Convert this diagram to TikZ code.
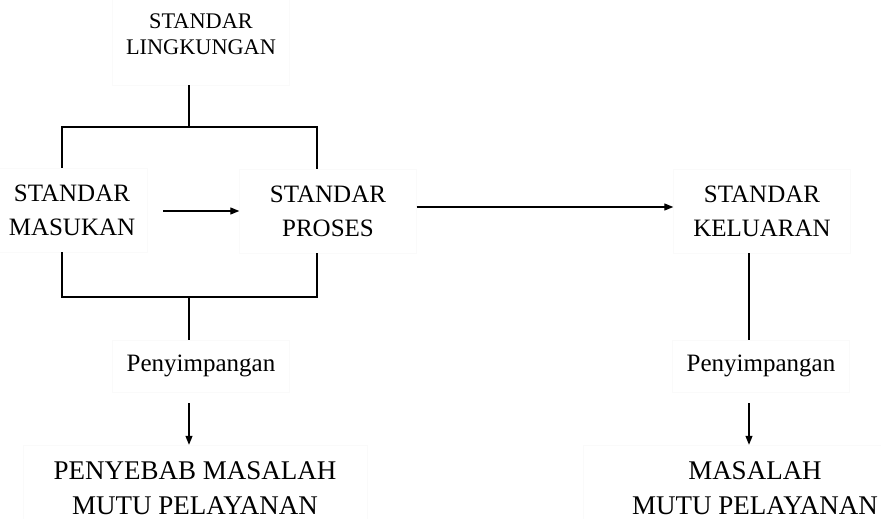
\documentclass[tikz,border=0pt]{standalone}
\usepackage{fontspec}
\setmainfont{Liberation Serif}
\usetikzlibrary{arrows.meta}

\begin{document}
\begin{tikzpicture}[x=1pt, y=-1pt, box/.style={draw=black!2, align=center, inner sep=0pt}, arrow/.style={-{Triangle[length=9pt, width=7pt]}, line width=1.2pt}, link/.style={line width=1.2pt}]
\useasboundingbox (0,0) rectangle (881,519);

\node[box, minimum width=177, minimum height=102, font=\fontsize{22.3}{26}\selectfont] (lingk) at (201,34) {STANDAR\\LINGKUNGAN};
\node[box, minimum width=150, minimum height=84, font=\fontsize{25}{34}\selectfont] (masukan) at (72,210) {STANDAR\\MASUKAN};
\node[box, minimum width=177, minimum height=84, font=\fontsize{25}{34}\selectfont] (proses) at (328,211) {STANDAR\\PROSES};
\node[box, minimum width=177, minimum height=84, font=\fontsize{25}{34}\selectfont] (keluaran) at (762,211) {STANDAR\\KELUARAN};
\node[box, minimum width=177, minimum height=52, font=\fontsize{25}{30}\selectfont] (penyL) at (201,366) {Penyimpangan};
\node[box, minimum width=177, minimum height=52, font=\fontsize{25}{30}\selectfont] (penyR) at (761,366) {Penyimpangan};
\node[box, minimum width=344, minimum height=86, font=\fontsize{27}{35}\selectfont] (penyebab) at (195,488) {PENYEBAB MASALAH\\MUTU PELAYANAN};
\node[box, minimum width=344, minimum height=86, font=\fontsize{27}{35}\selectfont] (masalah) at (755,488) {MASALAH\\MUTU PELAYANAN};

\coordinate (colA) at (62,0); \coordinate (colB) at (317,0); \coordinate (colL) at (189,0); \coordinate (colR) at (749,0);
\coordinate (jtop) at (189,127); \coordinate (jbot) at (189,297);

\draw[link] (lingk.south -| colL) -- (jtop);
\draw[link] (masukan.north -| colA) |- (jtop) -| (proses.north -| colB);
\draw[link] (masukan.south -| colA) |- (jbot) -| (proses.south -| colB);
\draw[link] (jbot) -- (penyL.north -| colL);
\draw[arrow, shorten <=11pt] (penyL.south -| colL) -- (penyebab.north -| colL);
\draw[arrow, shorten <=16pt] (masukan.east |- proses.west) -- (proses.west);
\draw[arrow] ([yshift=4pt]proses.east) -- ([yshift=4pt]keluaran.west);
\draw[link] (keluaran.south -| colR) -- (penyR.north -| colR);
\draw[arrow, shorten <=11pt] (penyR.south -| colR) -- (masalah.north -| colR);

\end{tikzpicture}
\end{document}
